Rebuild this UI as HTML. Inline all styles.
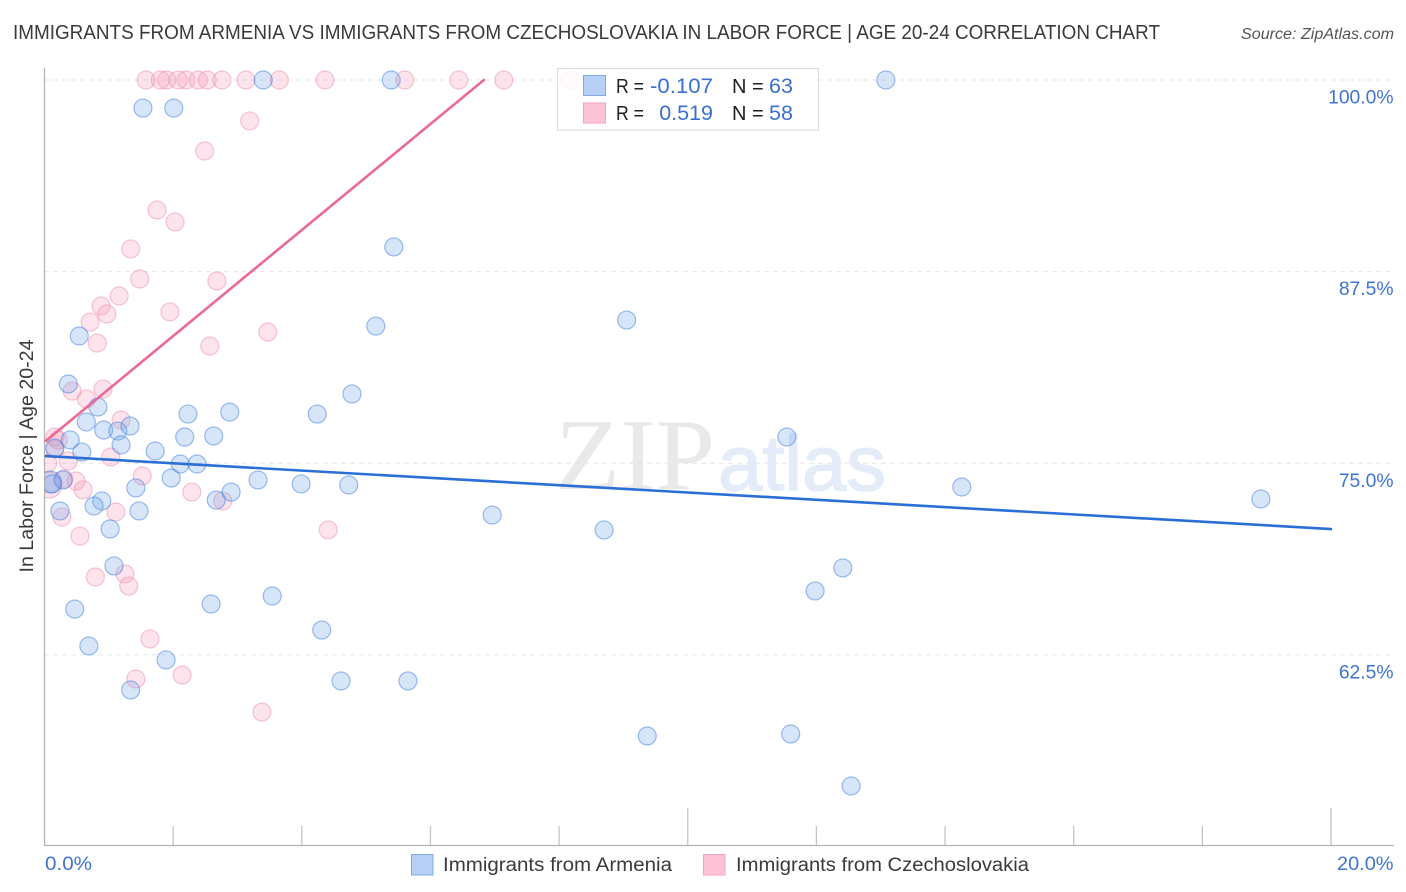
<!DOCTYPE html>
<html lang="en">
<head>
<meta charset="utf-8">
<title>Immigrants from Armenia vs Immigrants from Czechoslovakia in Labor Force</title>
<style>
html,body{margin:0;padding:0;background:#fff;width:1406px;height:892px;overflow:hidden}
svg{display:block;font-family:"Liberation Sans",sans-serif}
</style>
</head>
<body>
<svg id="chart" width="1406" height="892" viewBox="0 0 1406 892" xmlns="http://www.w3.org/2000/svg">
  <defs>
    <clipPath id="plot-clip"><rect x="45" y="60" width="1350" height="785"/></clipPath>
  </defs>
  <rect x="0" y="0" width="1406" height="892" fill="#ffffff"/>
  <text x="13" y="39" font-size="20" fill="#3a3a3a" textLength="1147" lengthAdjust="spacingAndGlyphs">IMMIGRANTS FROM ARMENIA VS IMMIGRANTS FROM CZECHOSLOVAKIA IN LABOR FORCE | AGE 20-24 CORRELATION CHART</text>
  <text x="1241" y="39" font-size="15.5" font-style="italic" fill="#555555" textLength="153" lengthAdjust="spacingAndGlyphs">Source: ZipAtlas.com</text>

  <g id="watermark">
    <text x="555" y="489" font-family="'Liberation Serif',serif" font-size="102" fill="#e9e9e9" textLength="160" lengthAdjust="spacingAndGlyphs">ZIP</text>
    <text x="718" y="490" font-size="78" fill="#e4ecfa" stroke="#e4ecfa" stroke-width="1.5" textLength="168" lengthAdjust="spacingAndGlyphs">atlas</text>
  </g>

  <g id="grid"></g>
  <g id="axes"></g>
  <g id="points" clip-path="url(#plot-clip)"></g>
  <g id="trends"></g>

  <text transform="translate(33,456) rotate(-90)" font-size="19" fill="#3a3a3a" text-anchor="middle" textLength="233" lengthAdjust="spacingAndGlyphs">In Labor Force | Age 20-24</text>

  <g id="stats-legend">
    <rect x="557.5" y="68.5" width="261" height="61.5" fill="#ffffff" fill-opacity="0.85" stroke="#dddddd" stroke-width="1.2"/>
    <rect x="583.5" y="75.5" width="22" height="20" fill="#b5cff5" stroke="#7fa8e4" stroke-width="1"/>
    <rect x="583.5" y="103" width="22" height="20" fill="#fcc4d6" stroke="#f0a3bb" stroke-width="1"/>
    <text x="616" y="93" font-size="20" fill="#222222" textLength="28" lengthAdjust="spacingAndGlyphs">R =</text>
    <text x="650" y="93" font-size="21.5" fill="#3a6fd0" textLength="63" lengthAdjust="spacingAndGlyphs">-0.107</text>
    <text x="732" y="93" font-size="20" fill="#222222">N =</text>
    <text x="769" y="93" font-size="21.5" fill="#3a6fd0">63</text>
    <text x="616" y="120" font-size="20" fill="#222222" textLength="28" lengthAdjust="spacingAndGlyphs">R =</text>
    <text x="713" y="120" font-size="21.5" fill="#3a6fd0" text-anchor="end">0.519</text>
    <text x="732" y="120" font-size="20" fill="#222222">N =</text>
    <text x="769" y="120" font-size="21.5" fill="#3a6fd0">58</text>
  </g>

  <g id="bottom-legend">
    <rect x="411.5" y="854.5" width="21.5" height="20.5" fill="#b5cff5" stroke="#7fa8e4" stroke-width="1"/>
    <text x="443" y="871" font-size="19" fill="#3a3a3a" textLength="229" lengthAdjust="spacingAndGlyphs">Immigrants from Armenia</text>
    <rect x="703.5" y="854.5" width="21.5" height="20.5" fill="#fcc4d6" stroke="#f0a3bb" stroke-width="1"/>
    <text x="736" y="871" font-size="19" fill="#3a3a3a" textLength="293" lengthAdjust="spacingAndGlyphs">Immigrants from Czechoslovakia</text>
  </g>
</svg>
<script>
// ----- Chart data (percent values) -----
const armeniaX = [1.53,2.01,3.40,5.39,13.08,5.43,5.15,9.05,0.54,0.37,0.83,4.78,2.23,2.88,4.24,0.65,0.92,1.14,1.33,0.40,1.19,0.16,0.58,1.72,2.18,2.63,11.54,2.11,2.37,1.97,1.42,3.32,3.99,4.73,14.26,18.91,2.90,2.67,0.89,0.77,1.47,0.24,1.02,6.96,8.70,1.08,12.41,11.98,0.47,2.59,3.54,4.31,0.69,1.89,4.61,5.65,1.34,9.37,11.60,12.54,0.09,0.29,0.12];
const armeniaY = [98.17,98.17,100,100,100,89.11,83.95,84.34,83.30,80.17,78.67,79.52,78.21,78.34,78.21,77.69,77.17,77.10,77.43,76.52,76.19,75.99,75.73,75.80,76.71,76.78,76.71,74.95,74.95,74.04,73.39,73.91,73.65,73.58,73.45,72.67,73.12,72.60,72.54,72.21,71.89,71.89,70.71,71.62,70.65,68.30,68.17,66.67,65.49,65.82,66.34,64.12,63.08,62.17,60.80,60.80,60.21,57.21,57.34,53.95,73.78,73.91,73.65];
const czechX = [1.58,1.80,1.90,2.08,2.20,2.39,2.53,2.76,3.13,3.65,4.36,5.60,6.44,7.14,8.17,3.19,2.49,1.75,2.03,1.34,1.48,2.68,1.16,0.88,0.97,1.95,0.71,3.47,0.82,2.57,0.91,0.43,0.65,1.19,0.16,0.21,0.16,0.37,1.03,1.52,0.30,0.49,0.60,2.29,2.77,1.11,0.27,0.55,4.41,0.79,1.25,1.31,1.64,2.14,1.42,3.38,0.07,0.05];
const czechY = [100,100,100,100,100,100,100,100,100,100,100,100,100,100,100,97.33,95.37,91.52,90.74,88.98,87.02,86.89,85.91,85.26,84.74,84.87,84.21,83.56,82.84,82.65,79.84,79.71,79.19,77.82,76.71,76.52,75.93,75.15,75.41,74.17,73.97,73.84,73.26,73.12,72.54,71.82,71.49,70.25,70.65,67.58,67.78,66.99,63.54,61.19,60.93,58.77,73.58,75.02];
const armeniaTrendX = [0.02,20];
const armeniaTrendY = [75.47,70.71];
const czechTrendX = [0.02,6.83];
const czechTrendY = [76.45,100];
const yTicks = [100,87.5,75,62.5];
const yTickLabels = ["100.0%","87.5%","75.0%","62.5%"];
const xTicks = [0,2,4,6,8,10,12,14,16,18,20];
const xTickLabels = ["0.0%","20.0%"];
const largeArmeniaValue = 0.09;
const largeCzechValue = 0.07;

// ----- Axis functions -----
function xScale(v){return 44.5 + v*64.325;}
function yScale(v){return 80 + (100-v)*15.33;}

const NS = "http://www.w3.org/2000/svg";
function mk(parent, tag, attrs){
  const el = document.createElementNS(NS, tag);
  for (const k in attrs) el.setAttribute(k, attrs[k]);
  parent.appendChild(el);
  return el;
}
const gridG = document.getElementById("grid");
const axesG = document.getElementById("axes");
const ptsG = document.getElementById("points");
const trendG = document.getElementById("trends");

// Gridlines and y tick labels
yTicks.forEach(function(t,i){
  const gl = mk(gridG,"line",{x1:44,x2:1394,y1:yScale(t),y2:yScale(t),stroke:"#e6e6e6","stroke-width":1,"stroke-dasharray":"5 4"});
  
  
  const lb = mk(axesG,"text",{x:1393.5,y:yScale(t)+23.5,"font-size":19.3,fill:"#3f74d6","text-anchor":"end"});
  
  
  lb.textContent = yTickLabels[i];
});

// Axis lines
const yAxisLine = mk(axesG,"line",{x1:44.5,x2:44.5,y1:68,y2:846,stroke:"#b4b4b4","stroke-width":1.3});


const xAxisLine = mk(axesG,"line",{x1:44,x2:1394,y1:845.5,y2:845.5,stroke:"#b4b4b4","stroke-width":1.3});



// X ticks: the middle and the last tick are drawn taller
xTicks.forEach(function(t){
  if (t === 0) return;
  const tall = (t === 10 || t === 20);
  const tk = mk(axesG,"line",{x1:xScale(t),x2:xScale(t),y1:tall?808:826,y2:845,stroke:"#c4c4c4","stroke-width":1.3});
  
  
});
const xMinLabel = mk(axesG,"text",{x:45,y:870,"font-size":19.3,fill:"#3f74d6",textLength:47,lengthAdjust:"spacingAndGlyphs"});


xMinLabel.textContent = xTickLabels[0];
const xMaxLabel = mk(axesG,"text",{x:1337,y:870,"font-size":19.3,fill:"#3f74d6",textLength:56.5,lengthAdjust:"spacingAndGlyphs"});


xMaxLabel.textContent = xTickLabels[1];

// Points
czechX.forEach(function(v,i){
  const big = (v === largeCzechValue);
  const c = mk(ptsG,"circle",{cx:xScale(v),cy:yScale(czechY[i]),r:big?13:9,fill:"rgba(248,150,180,0.27)",stroke:"rgba(235,130,165,0.45)","stroke-width":1.2});
  
  
});
armeniaX.forEach(function(v,i){
  const big = (v === largeArmeniaValue);
  const c = mk(ptsG,"circle",{cx:xScale(v),cy:yScale(armeniaY[i]),r:big?11:9,fill:"rgba(110,160,235,0.28)",stroke:"rgba(60,125,225,0.5)","stroke-width":1.2});
  
  
});

// Trend lines
const armeniaLine = mk(trendG,"line",{x1:xScale(armeniaTrendX[0]),y1:yScale(armeniaTrendY[0]),x2:xScale(armeniaTrendX[1]),y2:yScale(armeniaTrendY[1]),stroke:"#2a6fd6","stroke-width":2.6,"stroke-linecap":"round"});


const czechLine = mk(trendG,"line",{x1:xScale(czechTrendX[0]),y1:yScale(czechTrendY[0]),x2:xScale(czechTrendX[1]),y2:yScale(czechTrendY[1]),stroke:"#e96a97","stroke-width":2.6,"stroke-linecap":"round"});


</script>
</body>
</html>
